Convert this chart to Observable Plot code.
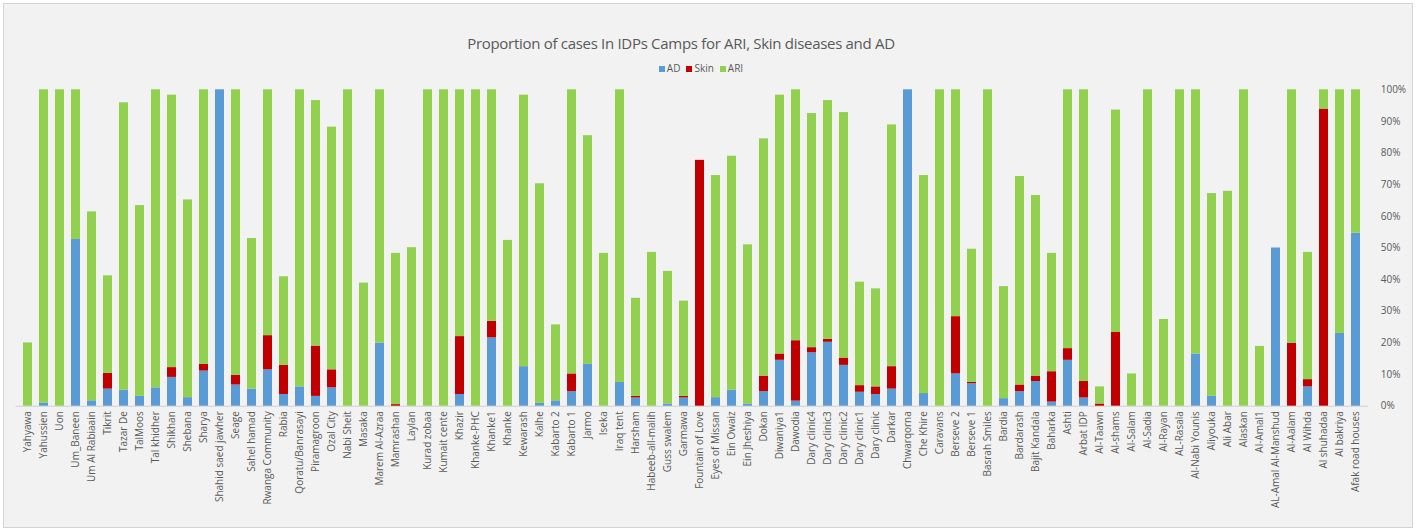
<!DOCTYPE html>
<html>
<head>
<meta charset="utf-8">
<script src="https://cdn.jsdelivr.net/npm/d3@7"></script>
<script src="https://cdn.jsdelivr.net/npm/@observablehq/plot@0.6"></script>
<style>
  body { margin: 0; background: #ffffff; font-family: "Open Sans", "Liberation Sans", sans-serif; }
  #frame { position: absolute; left: 3px; top: 3px; width: 1408px; height: 523px; background: #f2f2f2; border: 1px solid #d4d4d4; overflow: hidden; }
  #title { position: absolute; left: -27px; width: 1408px; top: 29px; text-align: center; font-size: 15px; color: #595959; letter-spacing: -0.3px; font-family: "Liberation Sans Narrow", "Open Sans", sans-serif; }
  #legend { position: absolute; left: -10px; width: 1408px; top: 57px; text-align: center; font-size: 10px; color: #595959; }
  #legend span.sw { display: inline-block; width: 6px; height: 6px; margin: 0 2px 0 6px; vertical-align: 0px; }
  #chart { position: absolute; left: 0; top: 75px; }
</style>
</head>
<body>
<div id="frame">
  <div id="title">Proportion of cases In IDPs Camps for ARI, Skin diseases and AD</div>
  <div id="legend"></div>
  <div id="chart"></div>
</div>
<script>
const camps = ["Yahyawa","Yahussien","Uon","Um_Baneen","Um Al Rabiaain","Tikrit","Tazar De","TalMoos","Tal khidher","Shikhan","Shebana","Sharya","Shahid saed jawher","Seage","Sahel hamad","Rwanga Community","Rabia","Qoratu/Banrasayi","Piramagroon","Ozal City","Nabi Sheit","Masaka","Marem Al-Azraa","Mamrashan","Laylan","Kurad zobaa","Kumait cente","Khazir","Khanke-PHC","Khanke1","Khanke","Kewarash","Kalhe","Kabarto 2","Kabarto 1","Jarmo","Iseka","Iraq tent","Harsham","Habeeb-all-malih","Guss swalem","Garmawa","Fountain of Love","Eyes of Missan","Ein Owaiz","Ein Jheshiya","Dokan","Diwaniya1","Dawodia","Dary clinic4","Dary clinic3","Dary clinic2","Dary clinic1","Dary clinic","Darkar","Chwarqorna","Che Khire","Caravans","Berseve 2","Berseve 1","Basrah Smiles","Bardia","Bardarash","Bajit Kandala","Baharka","Ashti","Arbat IDP","Al-Taawn","Al-shams","Al-Salam","Al-Sadia","Al-Rayan","AL-Rasala","Al-Nabi Younis","Aliyouka","Ali Abar","Alaskan","Al-Amal1","AL-Amal Al-Manshud","Al-Aalam","Al Wihda","Al shuhadaa","Al bakriya","Afak road houses"];

const adValues = [0,1,0,52.7,1.7,5.4,5.1,3.1,5.8,9.1,2.7,11.1,100,6.7,5.4,11.5,3.7,6.1,3.1,5.8,0,0,19.9,0,0,0,0,3.7,0,21.6,0,12.5,0.9,1.7,4.6,13.2,0,7.5,2.6,0,0.7,2.6,0,2.7,5.1,0.7,4.6,14.5,1.6,16.9,20.2,12.9,4.4,3.7,5.4,100,4.0,0,10.2,7.1,0,2.4,4.6,7.8,1.3,14.5,2.6,0,0,0,0,0,0,16.5,3.1,0,0,0,50,0,6.1,0,23.0,54.7];

const skinValues = [0,0,0,0,0,5.0,0,0,0,3.1,0,2.1,0,3.1,0,10.8,9.2,0,15.9,5.7,0,0,0,0.5,0,0,0,18.3,0,5.2,0,0,0,0,5.6,0,0,0,0.5,0,0,0.5,77.7,0,0,0,4.9,2.0,19.1,1.6,0.9,2.3,2.1,2.4,7.1,0,0,0,18.1,0.4,0,0,2.1,1.7,9.6,3.7,5.2,0.7,23.3,0,0,0,0,0,0,0,0,0,0,19.9,2.3,93.9,0,0];

const ariValues = [20,99,100,47.3,59.7,30.8,90.8,60.3,94.2,86.1,62.5,86.8,0,90.2,47.6,77.7,28.0,93.9,77.6,76.7,100,38.9,80.1,47.8,50.1,100,100,78.0,100,73.2,52.4,85.8,69.4,24.0,89.8,72.3,48.3,92.5,31.0,48.6,41.9,30.1,0,70.2,73.9,50.3,75.0,81.8,79.3,74.0,75.5,77.6,32.7,31.0,76.4,0,68.9,100,71.7,42.1,100,35.4,65.9,57.1,37.4,81.8,92.2,5.4,70.3,10.2,100,27.4,100,83.5,64.1,67.9,100,18.9,0,80.1,40.2,6.1,77.0,45.3];

const seriesNames = ["AD","Skin","ARI"];
const seriesColors = ["#5b9bd5","#c00000","#92d050"];
const yTicks = [0,10,20,30,40,50,60,70,80,90,100];

const rows = [];
camps.forEach((c, i) => {
  rows.push({camp: c, series: "AD", value: adValues[i]});
  rows.push({camp: c, series: "Skin", value: skinValues[i]});
  rows.push({camp: c, series: "ARI", value: ariValues[i]});
});

const legend = document.getElementById("legend");
seriesNames.forEach((s, i) => {
  legend.insertAdjacentHTML("beforeend", `<span class="sw" style="background:${seriesColors[i]}"></span>${s}`);
});

const chart = Plot.plot({
  width: 1408,
  height: 448,
  marginLeft: 11.5,
  marginRight: 43.8,
  marginTop: 10.3,
  marginBottom: 121.3,
  style: { background: "transparent", fontFamily: "Open Sans, Liberation Sans, sans-serif", fontSize: "10px", color: "#595959" },
  x: { domain: camps, padding: 0.44, label: null },
  y: { domain: [0, 100], label: null },
  color: { domain: seriesNames, range: seriesColors },
  marks: [
    Plot.ruleY([0], { stroke: "#d0d0d0" }),
    Plot.barY(rows, { x: "camp", y: "value", fill: "series", order: seriesNames }),
    Plot.axisX({ tickRotate: -90, tickSize: 0, tickPadding: 5, fontSize: 10, fill: "#595959", label: null }),
    Plot.axisY({ anchor: "right", ticks: yTicks, tickSize: 0, tickPadding: 12, tickFormat: d => d + "%", fontSize: 10, fill: "#595959", textAnchor: "start", label: null })
  ]
});
document.getElementById("chart").appendChild(chart);
</script>
</body>
</html>
